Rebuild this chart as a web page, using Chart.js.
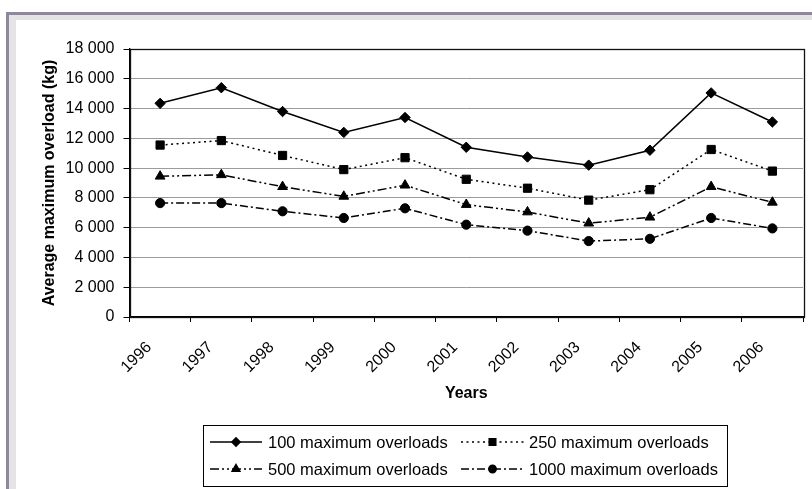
<!DOCTYPE html>
<html>
<head>
<meta charset="utf-8">
<script src="https://cdn.jsdelivr.net/npm/chart.js@4/dist/chart.umd.min.js"></script>
<style>
  html, body { margin: 0; padding: 0; background: #fff; overflow: hidden; }
  #wrap { position: relative; width: 812px; height: 489px; }
</style>
</head>
<body>
<div id="wrap"><canvas id="c" width="812" height="489"></canvas></div>
<script>
// Average maximum overload per year, by number of maximum overloads considered
const years = ['1996', '1997', '1998', '1999', '2000', '2001', '2002', '2003', '2004', '2005', '2006'];
const overloads100  = [14350, 15400, 13800, 12400, 13400, 11400, 10750, 10200, 11200, 15050, 13100];
const overloads250  = [11550, 11850, 10850,  9900, 10700,  9250,  8650,  7850,  8550, 11250,  9800];
const overloads500  = [ 9450,  9550,  8750,  8100,  8850,  7550,  7050,  6300,  6700,  8750,  7700];
const overloads1000 = [ 7650,  7650,  7100,  6650,  7300,  6200,  5800,  5100,  5250,  6650,  5950];
const seriesNames = ['100 maximum overloads', '250 maximum overloads', '500 maximum overloads', '1000 maximum overloads'];
const yTickValues = [0, 2000, 4000, 6000, 8000, 10000, 12000, 14000, 16000, 18000];

const FONT = '"Liberation Sans", Arial, sans-serif';

// "18 000" style thousands grouping
function groupThousands(v) {
  const s = String(Math.round(v));
  return s.replace(/\B(?=(\d{3})+(?!\d))/g, ' ');
}

function series(label, data, dash, pointStyle, radius) {
  return {
    label, data,
    borderColor: '#000', backgroundColor: '#000',
    borderWidth: 1.5, borderDash: dash,
    pointStyle, pointRadius: radius, pointHoverRadius: radius,
    pointBorderWidth: 1, pointBackgroundColor: '#000', pointBorderColor: '#000',
    tension: 0, fill: false
  };
}

const datasets = [
  series(seriesNames[0], overloads100, [], 'rectRot', 5.2),
  series(seriesNames[1], overloads250, [2, 3.5], 'rect', 5.8),
  series(seriesNames[2], overloads500, [9, 3, 2, 3, 2, 3], 'triangle', 5.6),
  series(seriesNames[3], overloads1000, [8, 3, 2, 3], 'circle', 4.6)
];

// Window frame and light inner band drawn behind the chart
const framePlugin = {
  id: 'frame',
  beforeDraw(chart) {
    const ctx = chart.ctx;
    ctx.save();
    ctx.fillStyle = '#fff';
    ctx.fillRect(0, 0, chart.width, chart.height);
    ctx.fillStyle = '#8f86a0';
    ctx.fillRect(6, 12, chart.width, 3);
    ctx.fillRect(6, 12, 3, chart.height);
    ctx.fillStyle = '#e4e4e4';
    ctx.fillRect(9, 15, chart.width, 5);
    ctx.fillRect(9, 15, 7, chart.height);
    ctx.restore();
  }
};

// Dark border round the plot area
const plotBorderPlugin = {
  id: 'plotBorder',
  beforeDatasetsDraw(chart) {
    const {ctx, chartArea: a} = chart;
    ctx.save();
    ctx.strokeStyle = '#111';
    ctx.lineWidth = 1.3;
    ctx.strokeRect(Math.round(a.left) + 0.5, Math.round(a.top) + 0.5,
                   Math.round(a.right - a.left), Math.round(a.bottom - a.top));
    ctx.restore();
  }
};

// Boxed two-column legend showing each series' line style and marker
const boxLegendPlugin = {
  id: 'boxLegend',
  afterDraw(chart) {
    const ctx = chart.ctx;
    const box = {x: 203.5, y: 425.5, w: 524, h: 61};
    const cols = [{x0: 210, x1: 262, tx: 268}, {x0: 461, x1: 524, tx: 529}];
    const rows = [442, 469];
    ctx.save();
    ctx.strokeStyle = '#000';
    ctx.lineWidth = 1;
    ctx.strokeRect(box.x, box.y, box.w, box.h);
    chart.data.datasets.forEach((ds, i) => {
      const c = cols[i % 2];
      const y = rows[Math.floor(i / 2)];
      ctx.save();
      ctx.strokeStyle = ds.borderColor;
      ctx.lineWidth = ds.borderWidth;
      ctx.setLineDash(ds.borderDash);
      ctx.beginPath();
      ctx.moveTo(c.x0, y);
      ctx.lineTo(c.x1, y);
      ctx.stroke();
      ctx.setLineDash([]);
      ctx.fillStyle = ds.pointBackgroundColor;
      ctx.strokeStyle = ds.pointBorderColor;
      Chart.helpers.drawPoint(ctx, {
        pointStyle: ds.pointStyle, radius: ds.pointRadius * 0.8,
        rotation: 0, borderWidth: 1
      }, (c.x0 + c.x1) / 2, y);
      ctx.restore();
      ctx.fillStyle = '#000';
      ctx.font = '16.5px ' + FONT;
      ctx.textBaseline = 'middle';
      ctx.textAlign = 'left';
      ctx.fillText(ds.label, c.tx, y + 1);
    });
    ctx.restore();
  }
};

new Chart(document.getElementById('c'), {
  type: 'line',
  data: { labels: years, datasets },
  plugins: [framePlugin, plotBorderPlugin, boxLegendPlugin],
  options: {
    responsive: false,
    animation: false,
    devicePixelRatio: 1,
    layout: { padding: { left: 0, top: 49, right: 9, bottom: 0 } },
    plugins: { legend: { display: false }, tooltip: { enabled: false } },
    scales: {
      x: {
        type: 'category',
        offset: true,
        grid: { offset: true, drawOnChartArea: false, tickLength: 5, color: '#000', lineWidth: 1 },
        border: { display: true, color: '#000', width: 1.3 },
        ticks: {
          autoSkip: false, minRotation: 45, maxRotation: 45,
          color: '#000', font: { family: FONT, size: 16 }, padding: 16, labelOffset: -11
        },
        title: {
          display: true, text: 'Years', color: '#000',
          font: { family: FONT, size: 16, weight: 'bold' },
          padding: { top: 0, bottom: 86 }
        },
        afterFit(scale) { scale.height = 489 - 317; }
      },
      y: {
        min: 0, max: 18000,
        afterBuildTicks(scale) { scale.ticks = yTickValues.map(v => ({ value: v })); },
        grid: { color: '#9c9c9c', lineWidth: 1, tickLength: 6, tickColor: '#000' },
        border: { display: true, color: '#000', width: 1.3 },
        ticks: {
          color: '#000', font: { family: FONT, size: 16 }, padding: 9,
          callback: v => groupThousands(v)
        },
        title: {
          display: true, text: 'Average maximum overload (kg)', color: '#000',
          font: { family: FONT, size: 16, weight: 'bold' },
          padding: { top: 39.5, bottom: 0 }
        },
        afterFit(scale) { scale.width = 129.5; }
      }
    }
  }
});
</script>
</body>
</html>
